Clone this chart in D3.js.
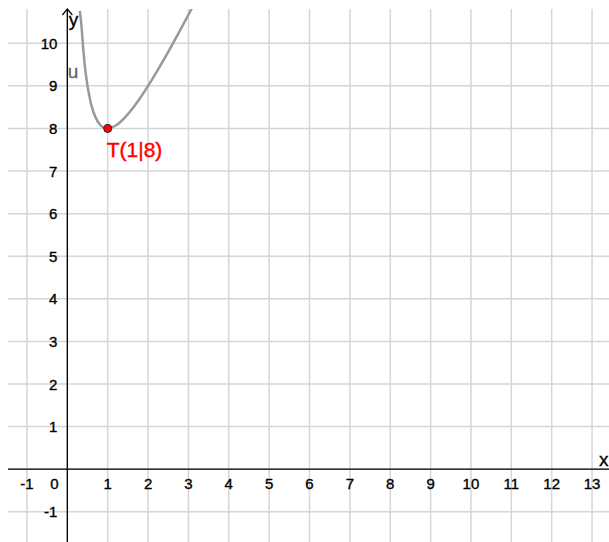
<!DOCTYPE html>
<html>
<head>
<meta charset="utf-8">
<script src="https://cdn.jsdelivr.net/npm/d3@7"></script>
<style>
  body { margin: 0; background: #fff; }
  svg { display: block; font-family: 'Liberation Sans', Arial, sans-serif; }
</style>
</head>
<body>
<div id="chart"></div>
<script>
// data
const xTicks = [-1, 0, 1, 2, 3, 4, 5, 6, 7, 8, 9, 10, 11, 12, 13];
const yTicks = [-1, 1, 2, 3, 4, 5, 6, 7, 8, 9, 10];
const curveX = [0.31, 0.35, 0.4, 0.45, 0.5, 0.6, 0.7, 0.8, 0.9, 1, 1.2, 1.4, 1.6, 1.8, 2, 2.25, 2.5, 2.75, 3, 3.12];
const curveY = [10.76, 10.41, 9.8, 9.34, 9.0, 8.53, 8.26, 8.1, 8.02, 8, 8.07, 8.23, 8.45, 8.71, 9, 9.39, 9.8, 10.23, 10.67, 10.88];
const pointT = { x: 1, y: 8, label: 'T(1|8)' };
const curveLabel = 'u';

const W = 609;
const H = 542;
const marginLeft = 8;
const marginTop = 9;
const width = W - marginLeft;
const height = H - marginTop;

const scaleX = d3.scaleLinear().domain([-1.47, 13.42]).range([0, width]);
const scaleY = d3.scaleLinear().domain([-1.71, 10.805]).range([height, 0]);

const $svg = d3.select('#chart').append('svg')
  .attr('width', W)
  .attr('height', H);

$svg.append('defs').append('clipPath').attr('id', 'clip')
  .append('rect').attr('width', width).attr('height', height);

const $vis = $svg.append('g')
  .attr('transform', `translate(${marginLeft}, ${marginTop})`);

// grid
const gridX = d3.range(-1, 14);
const gridY = d3.range(-1, 11);

$vis.append('g').selectAll('line').data(gridX).join('line')
  .attr('x1', d => scaleX(d)).attr('x2', d => scaleX(d))
  .attr('y1', 0).attr('y2', height)
  .attr('stroke', '#d6d6d6').attr('stroke-width', 1.5);

$vis.append('g').selectAll('line').data(gridY).join('line')
  .attr('y1', d => scaleY(d)).attr('y2', d => scaleY(d))
  .attr('x1', 0).attr('x2', width)
  .attr('stroke', '#d6d6d6').attr('stroke-width', 1.5);

// axes
const x0 = scaleX(0);
const y0 = scaleY(0);

$vis.append('line')
  .attr('x1', 0).attr('x2', width).attr('y1', y0).attr('y2', y0)
  .attr('stroke', '#000').attr('stroke-width', 1.3);
$vis.append('line')
  .attr('x1', x0).attr('x2', x0).attr('y1', 0).attr('y2', height)
  .attr('stroke', '#000').attr('stroke-width', 1.3);

// arrow head on y axis
$vis.append('path')
  .attr('d', `M${x0 - 5},${6} L${x0},${0} L${x0 + 5},${6}`)
  .attr('fill', 'none').attr('stroke', '#000').attr('stroke-width', 1.2);

// tick labels (thin stroke to mimic the heavier original rendering)
$vis.append('g').selectAll('text').data(xTicks).join('text')
  .attr('x', d => (d === 0 ? x0 - 13 : scaleX(d)))
  .attr('y', y0 + 20)
  .attr('text-anchor', 'middle')
  .attr('stroke', '#000').attr('stroke-width', 0.35)
  .style('font-size', '15px')
  .text(d => d);

$vis.append('g').selectAll('text').data(yTicks).join('text')
  .attr('x', x0 - 10)
  .attr('y', d => scaleY(d))
  .attr('dy', '0.37em')
  .attr('text-anchor', 'end')
  .attr('stroke', '#000').attr('stroke-width', 0.35)
  .style('font-size', '15px')
  .text(d => d);

$vis.append('text')
  .attr('x', x0 + 1.5).attr('y', 26 - marginTop)
  .attr('stroke', '#000').attr('stroke-width', 0.3)
  .style('font-size', '19px')
  .text('y');
$vis.append('text')
  .attr('x', width - 10).attr('y', y0 - 3)
  .attr('stroke', '#000').attr('stroke-width', 0.3)
  .style('font-size', '19px')
  .text('x');

// curve u
const points = curveX.map((x, i) => [x, curveY[i]]);
const line = d3.line()
  .curve(d3.curveCatmullRom)
  .x(d => scaleX(d[0]))
  .y(d => scaleY(d[1]));

$vis.append('path')
  .datum(points)
  .attr('clip-path', 'url(#clip)')
  .attr('d', line)
  .attr('fill', 'none')
  .attr('stroke', '#999')
  .attr('stroke-width', 2.5);

$vis.append('text')
  .attr('x', x0 + 0.5).attr('y', 78 - marginTop)
  .attr('fill', '#666')
  .attr('stroke', '#666').attr('stroke-width', 0.3)
  .style('font-size', '19px')
  .text(curveLabel);

// point T
$vis.append('circle')
  .attr('cx', scaleX(pointT.x)).attr('cy', scaleY(pointT.y))
  .attr('r', 4)
  .attr('fill', '#ff0000')
  .attr('stroke', '#222').attr('stroke-width', 1);

$vis.append('text')
  .attr('x', scaleX(pointT.x) - 1).attr('y', scaleY(pointT.y) + 29)
  .attr('fill', '#ff0000')
  .attr('stroke', '#ff0000').attr('stroke-width', 0.4)
  .style('font-size', '21px')
  .text(pointT.label);
</script>
</body>
</html>
